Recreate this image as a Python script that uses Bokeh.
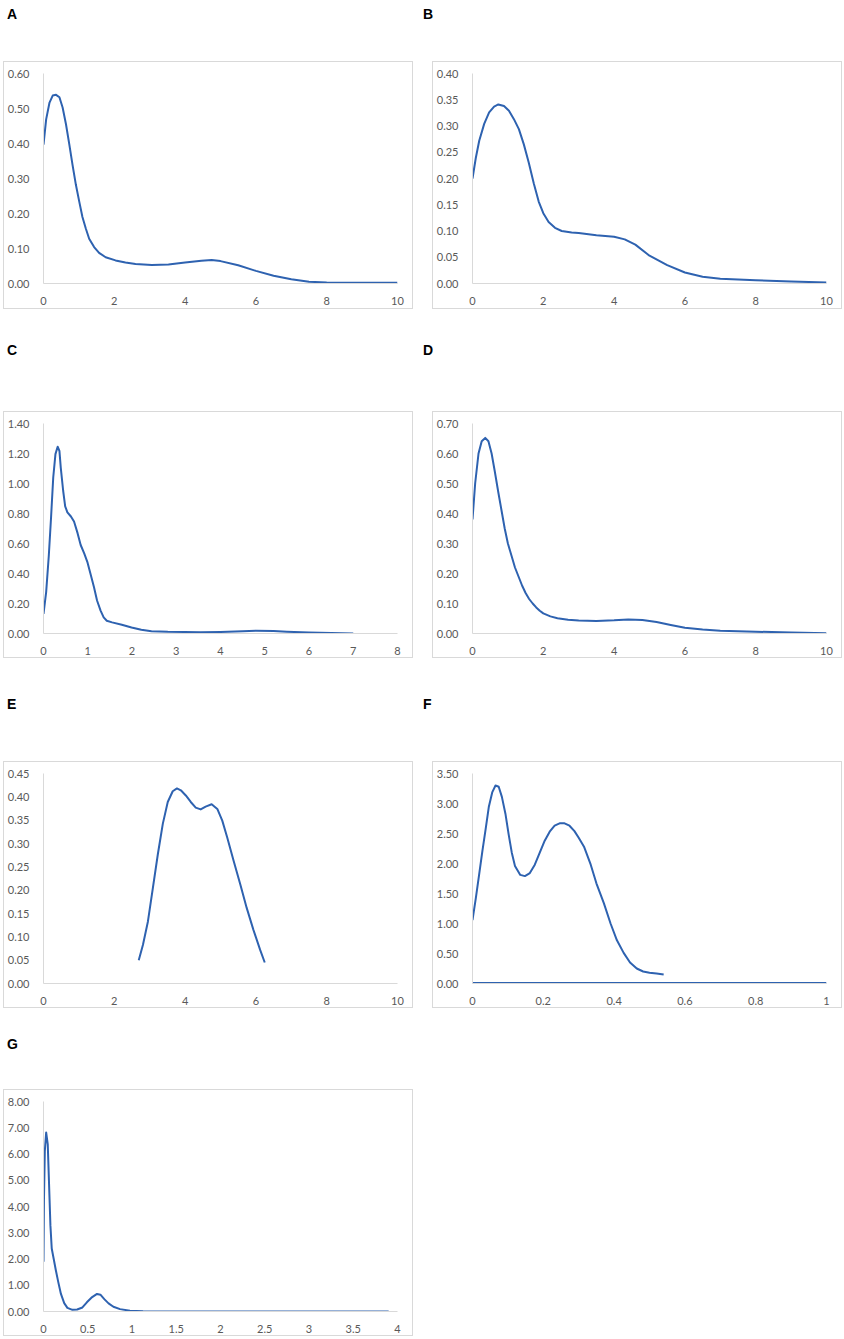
from bokeh.plotting import figure
from bokeh.models import Range1d, FixedTicker, NumeralTickFormatter, Div, Spacer, CustomJSTickFormatter
from bokeh.layouts import column, row
from bokeh.embed import file_html
from bokeh.resources import INLINE

# ---------------- data ----------------
panel_labels = ["A", "B", "C", "D", "E", "F", "G"]

a_x = [0, 0.075, 0.17, 0.26, 0.355, 0.45, 0.54, 0.635, 0.73, 0.82, 0.915, 1.01, 1.10, 1.195, 1.29, 1.43, 1.57, 1.755, 2.035, 2.315, 2.6, 3.06, 3.53, 4.0, 4.46, 4.75, 5.0, 5.5, 6.0, 6.5, 7.0, 7.5, 8.0, 9.0, 10.0]
a_y = [0.397, 0.469, 0.517, 0.537, 0.539, 0.532, 0.503, 0.455, 0.397, 0.339, 0.282, 0.234, 0.19, 0.157, 0.128, 0.104, 0.0875, 0.075, 0.066, 0.06, 0.056, 0.053, 0.054, 0.060, 0.065, 0.067, 0.064, 0.052, 0.036, 0.022, 0.012, 0.005, 0.003, 0.002, 0.002]

b_x = [0, 0.093, 0.19, 0.33, 0.47, 0.61, 0.73, 0.89, 1.03, 1.17, 1.31, 1.45, 1.59, 1.73, 1.87, 2.0, 2.15, 2.33, 2.52, 2.8, 3.0, 3.5, 4.0, 4.3, 4.6, 5.0, 5.5, 6.0, 6.5, 7.0, 8.0, 9.0, 10.0]
b_y = [0.20, 0.239, 0.272, 0.304, 0.326, 0.337, 0.341, 0.338, 0.329, 0.313, 0.294, 0.265, 0.23, 0.191, 0.156, 0.134, 0.117, 0.106, 0.1, 0.097, 0.096, 0.092, 0.089, 0.084, 0.074, 0.053, 0.035, 0.021, 0.013, 0.009, 0.006, 0.004, 0.002]

c_x = [0, 0.06, 0.12, 0.17, 0.22, 0.27, 0.32, 0.36, 0.39, 0.445, 0.49, 0.54, 0.62, 0.69, 0.77, 0.84, 0.92, 0.99, 1.06, 1.14, 1.21, 1.29, 1.36, 1.43, 1.55, 1.77, 1.99, 2.21, 2.44, 2.81, 3.55, 4.0, 4.5, 4.8, 5.2, 5.5, 6.0, 6.5, 7.0]
c_y = [0.13, 0.276, 0.52, 0.77, 1.04, 1.196, 1.245, 1.218, 1.106, 0.95, 0.848, 0.808, 0.78, 0.747, 0.669, 0.59, 0.534, 0.478, 0.40, 0.31, 0.22, 0.153, 0.108, 0.085, 0.074, 0.058, 0.04, 0.025, 0.015, 0.011, 0.008, 0.01, 0.015, 0.018, 0.016, 0.012, 0.006, 0.003, 0.0]

d_x = [0, 0.075, 0.17, 0.26, 0.36, 0.45, 0.54, 0.63, 0.73, 0.82, 0.91, 1.0, 1.1, 1.2, 1.3, 1.4, 1.5, 1.6, 1.7, 1.8, 1.9, 2.0, 2.2, 2.4, 2.7, 3.0, 3.5, 4.0, 4.4, 4.8, 5.2, 5.6, 6.0, 6.5, 7.0, 8.0, 9.0, 10.0]
d_y = [0.38, 0.50, 0.60, 0.641, 0.652, 0.641, 0.60, 0.54, 0.47, 0.41, 0.35, 0.30, 0.26, 0.22, 0.19, 0.16, 0.135, 0.115, 0.10, 0.087, 0.076, 0.067, 0.057, 0.051, 0.046, 0.043, 0.042, 0.044, 0.047, 0.045, 0.038, 0.028, 0.019, 0.013, 0.009, 0.006, 0.003, 0.001]

e_x = [2.69, 2.81, 2.95, 3.09, 3.23, 3.37, 3.51, 3.65, 3.77, 3.88, 4.02, 4.16, 4.30, 4.44, 4.58, 4.75, 4.91, 5.05, 5.19, 5.37, 5.56, 5.74, 5.93, 6.12, 6.25]
e_y = [0.05, 0.083, 0.133, 0.205, 0.277, 0.342, 0.389, 0.412, 0.418, 0.414, 0.403, 0.389, 0.377, 0.373, 0.379, 0.384, 0.374, 0.349, 0.313, 0.263, 0.212, 0.162, 0.115, 0.072, 0.045]

f_x = [0, 0.0093, 0.0186, 0.028, 0.037, 0.046, 0.056, 0.065, 0.074, 0.083, 0.093, 0.102, 0.111, 0.12, 0.135, 0.148, 0.162, 0.176, 0.19, 0.204, 0.218, 0.232, 0.246, 0.26, 0.274, 0.288, 0.30, 0.315, 0.334, 0.35, 0.371, 0.39, 0.408, 0.427, 0.445, 0.464, 0.482, 0.50, 0.52, 0.54]
f_y = [1.056, 1.42, 1.81, 2.21, 2.57, 2.94, 3.19, 3.30, 3.28, 3.11, 2.83, 2.49, 2.18, 1.96, 1.81, 1.79, 1.84, 1.98, 2.18, 2.38, 2.53, 2.63, 2.67, 2.67, 2.63, 2.54, 2.43, 2.28, 1.98, 1.67, 1.34, 1.0, 0.72, 0.51, 0.35, 0.25, 0.20, 0.18, 0.165, 0.15]
f_base_x = [0, 1]
f_base_y = [0, 0]

g_x = [0, 0.005, 0.015, 0.03, 0.048, 0.063, 0.078, 0.093, 0.115, 0.14, 0.167, 0.197, 0.234, 0.27, 0.327, 0.38, 0.44, 0.49, 0.55, 0.605, 0.643, 0.687, 0.735, 0.79, 0.865, 0.977, 1.125, 1.5, 2.0, 3.0, 3.9]
g_y = [1.9, 4.19, 6.12, 6.82, 6.37, 4.83, 3.29, 2.40, 2.01, 1.56, 1.12, 0.67, 0.32, 0.14, 0.064, 0.077, 0.154, 0.35, 0.55, 0.67, 0.64, 0.47, 0.31, 0.18, 0.09, 0.026, 0.008, 0.004, 0.003, 0.001, 0.0]

# tick values and labels
x_ticks_10 = [0, 2, 4, 6, 8, 10]
x_labels_10 = ["0", "2", "4", "6", "8", "10"]
x_ticks_8 = [0, 1, 2, 3, 4, 5, 6, 7, 8]
x_labels_8 = ["0", "1", "2", "3", "4", "5", "6", "7", "8"]
x_ticks_1 = [0, 0.2, 0.4, 0.6, 0.8, 1]
x_labels_1 = ["0", "0.2", "0.4", "0.6", "0.8", "1"]
x_ticks_4 = [0, 0.5, 1, 1.5, 2, 2.5, 3, 3.5, 4]
x_labels_4 = ["0", "0.5", "1", "1.5", "2", "2.5", "3", "3.5", "4"]

y_ticks_a = [0, 0.1, 0.2, 0.3, 0.4, 0.5, 0.6]
y_ticks_b = [0, 0.05, 0.1, 0.15, 0.2, 0.25, 0.3, 0.35, 0.4]
y_ticks_c = [0, 0.2, 0.4, 0.6, 0.8, 1.0, 1.2, 1.4]
y_ticks_d = [0, 0.1, 0.2, 0.3, 0.4, 0.5, 0.6, 0.7]
y_ticks_e = [0, 0.05, 0.1, 0.15, 0.2, 0.25, 0.3, 0.35, 0.4, 0.45]
y_ticks_f = [0, 0.5, 1.0, 1.5, 2.0, 2.5, 3.0, 3.5]
y_ticks_g = [0, 1, 2, 3, 4, 5, 6, 7, 8]

# ---------------- style ----------------
LINE = "#2e62b0"
AXIS = "#d9d9d9"
TICK_TEXT = "#595959"
FONT = "Lato"
FIG_W = 410
GAP = 19
LEFT = 3


def make_panel(xs, ys, xticks, xlabels, yticks, height, bottom, extra=None):
    p = figure(width=FIG_W, height=height, output_backend="svg", toolbar_location=None,
               x_range=Range1d(xticks[0], xticks[-1]), y_range=Range1d(yticks[0], yticks[-1]),
               min_border_left=34, min_border_right=17, min_border_top=11, min_border_bottom=bottom)
    p.styles = {"border": "1px solid " + AXIS}
    p.outline_line_color = None
    p.background_fill_color = "white"
    p.border_fill_color = "white"
    p.xgrid.visible = False
    p.ygrid.visible = False
    if extra is not None:
        p.line(extra[0], extra[1], line_color=LINE, line_width=3)
    p.line(xs, ys, line_color=LINE, line_width=2, line_join="round")
    p.xaxis.ticker = FixedTicker(ticks=xticks)
    p.xaxis.formatter = CustomJSTickFormatter(
        args=dict(tvals=xticks, tlabels=xlabels),
        code="const i = tvals.indexOf(tick); return i >= 0 ? tlabels[i] : String(tick);")
    p.yaxis.ticker = FixedTicker(ticks=yticks)
    p.yaxis.formatter = NumeralTickFormatter(format="0.00")
    for ax in (p.xaxis[0], p.yaxis[0]):
        ax.axis_line_color = AXIS
        ax.axis_line_width = 1
        ax.major_tick_line_color = None
        ax.minor_tick_line_color = None
        ax.major_label_text_color = TICK_TEXT
        ax.major_label_text_font = FONT
        ax.major_label_text_font_size = "11px"
    p.xaxis.major_label_standoff = 7
    p.yaxis.major_label_standoff = 8
    return p


def label_div(text, width, height, pad_top, pad_left):
    html = ('<div style="padding-top:%dpx;padding-left:%dpx;font-family:\'Liberation Sans\',Arial,sans-serif;'
            'font-weight:bold;font-size:14px;color:#000;line-height:16px;">%s</div>' % (pad_top, pad_left, text))
    return Div(text=html, width=width, height=height, margin=0)


pa = make_panel(a_x, a_y, x_ticks_10, x_labels_10, y_ticks_a, 248, 27)
pb = make_panel(b_x, b_y, x_ticks_10, x_labels_10, y_ticks_b, 248, 27)
pc = make_panel(c_x, c_y, x_ticks_8, x_labels_8, y_ticks_c, 247, 26)
pd = make_panel(d_x, d_y, x_ticks_10, x_labels_10, y_ticks_d, 247, 26)
pe = make_panel(e_x, e_y, x_ticks_10, x_labels_10, y_ticks_e, 247, 26)
pf = make_panel(f_x, f_y, x_ticks_1, x_labels_1, y_ticks_f, 247, 26, extra=(f_base_x, f_base_y))
pg = make_panel(g_x, g_y, x_ticks_4, x_labels_4, y_ticks_g, 247, 26)

LW = 422
RW = 420


def label_row(i, height, pad_top):
    items = [label_div(panel_labels[i], LW, height, pad_top, 7)]
    if i + 1 < len(panel_labels):
        items.append(label_div(panel_labels[i + 1], RW, height, pad_top, 1))
    return row(*items)


layout = column(
    label_row(0, 61, 6),
    row(Spacer(width=LEFT), pa, Spacer(width=GAP), pb),
    label_row(2, 102, 33),
    row(Spacer(width=LEFT), pc, Spacer(width=GAP), pd),
    label_row(4, 103, 38),
    row(Spacer(width=LEFT), pe, Spacer(width=GAP), pf),
    label_row(6, 81, 28),
    row(Spacer(width=LEFT), pg),
)

open("out.html", "w").write(file_html(layout, INLINE))
